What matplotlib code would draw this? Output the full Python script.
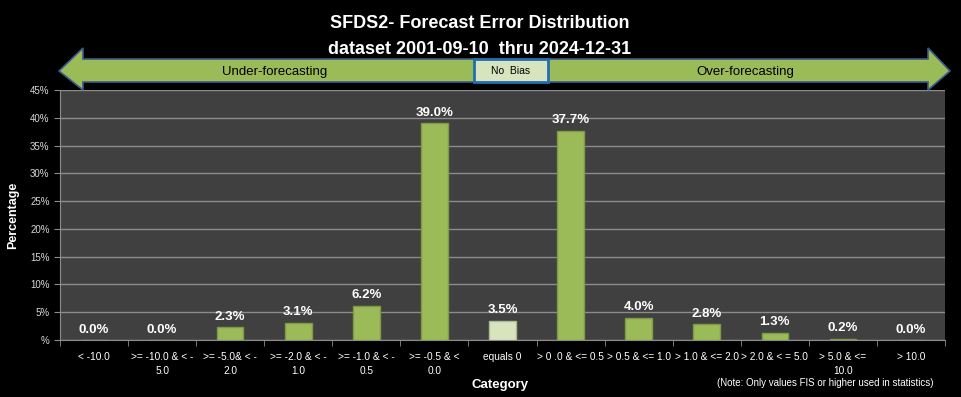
import numpy as np
import matplotlib
matplotlib.use("Agg")
import matplotlib.pyplot as plt
from matplotlib.patches import Polygon, Rectangle
from matplotlib.ticker import FuncFormatter

# data
categories = ["< -10.0", ">= -10.0 & < -\n5.0", ">= -5.0& < -\n2.0", ">= -2.0 & < -\n1.0",
              ">= -1.0 & < -\n0.5", ">= -0.5 & <\n0.0", "equals 0", "> 0 .0 & <= 0.5",
              "> 0.5 & <= 1.0", "> 1.0 & <= 2.0", "> 2.0 & < = 5.0", "> 5.0 & <=\n10.0", "> 10.0"]
values = [0.0, 0.0, 2.3, 3.1, 6.2, 39.0, 3.5, 37.7, 4.0, 2.8, 1.3, 0.2, 0.0]
zero_idx = 6  # "equals 0" bar has the pale colour

plt.rcParams['font.family'] = ['Liberation Sans Narrow', 'Liberation Sans', 'DejaVu Sans']

fig = plt.figure(figsize=(9.61, 3.97), dpi=100, facecolor='black')
ax = fig.add_axes([60/961, 57/397, 885/961, 250/397])
ax.set_facecolor('#404040')

x = np.arange(len(values))
colors = ['#9BBB59'] * len(values)
colors[zero_idx] = '#D7E4BD'
edges = ['#7E9A45'] * len(values)
edges[zero_idx] = '#AEB99A'
bars = ax.bar(x, values, width=0.39, color=colors, edgecolor=edges, linewidth=1.0, zorder=3)

for xi, v in zip(x, values):
    ax.text(xi, v + 0.8, f"{v:.1f}%", ha='center', va='bottom', color='white',
            fontsize=9.5, fontweight='bold', zorder=4)

ax.set_xlim(-0.5, len(values) - 0.5)
ax.set_ylim(0, 45)
ax.set_yticks(np.arange(0, 46, 5))
ax.yaxis.set_major_formatter(FuncFormatter(lambda v, p: "%" if v == 0 else f"{int(v)}%"))
ax.grid(axis='y', color='#8C8C8C', linewidth=1.0, zorder=1)
ax.set_xticks(x)
ax.set_xticklabels(categories, fontsize=7.3, color='white', linespacing=1.45)
ax.set_xticks(np.arange(-0.5, len(values), 1), minor=True)
ax.tick_params(axis='x', which='major', length=0, pad=9)
ax.tick_params(axis='x', which='minor', length=4, color='#8C8C8C')
ax.tick_params(axis='y', length=4, color='#8C8C8C', labelcolor='#D9D9D9', labelsize=7)
for s in ['top', 'right']:
    ax.spines[s].set_visible(False)
ax.spines['left'].set_color('#8C8C8C')
ax.spines['bottom'].set_color('#8C8C8C')

ax.set_ylabel("Percentage", color='white', fontsize=9, fontweight='bold', labelpad=8)
fig.text(500/961, 1 - 385/397, "Category", color='white', fontsize=9.5, fontweight='bold',
         ha='center', va='center')
fig.text(825/961, 1 - 383/397, "(Note: Only values FIS or higher used in statistics)",
         color='white', fontsize=7, ha='center', va='center')

fig.text(480/961, 1 - 23/397, "SFDS2- Forecast Error Distribution", color='white',
         fontsize=13, fontweight='bold', ha='center', va='center')
fig.text(480/961, 1 - 49/397, "dataset 2001-09-10  thru 2024-12-31", color='white',
         fontsize=13, fontweight='bold', ha='center', va='center')

# double-headed arrow across the top (figure pixel coords)
H = 397
pts = [(59, 71), (83, 48), (83, 59), (928, 59), (928, 48), (950, 71),
       (928, 90), (928, 82), (83, 82), (83, 90)]
arrow = Polygon([(px / 961, 1 - py / H) for px, py in pts], closed=True,
                transform=fig.transFigure, facecolor='#9BBB59', edgecolor='#3A5A8C',
                linewidth=1.2, zorder=5)
fig.patches.append(arrow)
box = Rectangle((474 / 961, 1 - 82 / H), 74 / 961, 23 / H, transform=fig.transFigure,
                facecolor='#D7E4BD', edgecolor='#1F6FB0', linewidth=2, zorder=6)
fig.patches.append(box)
fig.text(511/961, 1 - 71/H, "No  Bias", color='black', fontsize=7.5, ha='center',
         va='center', zorder=7)
fig.text(275/961, 1 - 72/H, "Under-forecasting", color='black', fontsize=9.5,
         ha='center', va='center', zorder=7)
fig.text(745/961, 1 - 72/H, "Over-forecasting", color='black', fontsize=9.5,
         ha='center', va='center', zorder=7)

fig.savefig("out.png", dpi=100, facecolor='black')
